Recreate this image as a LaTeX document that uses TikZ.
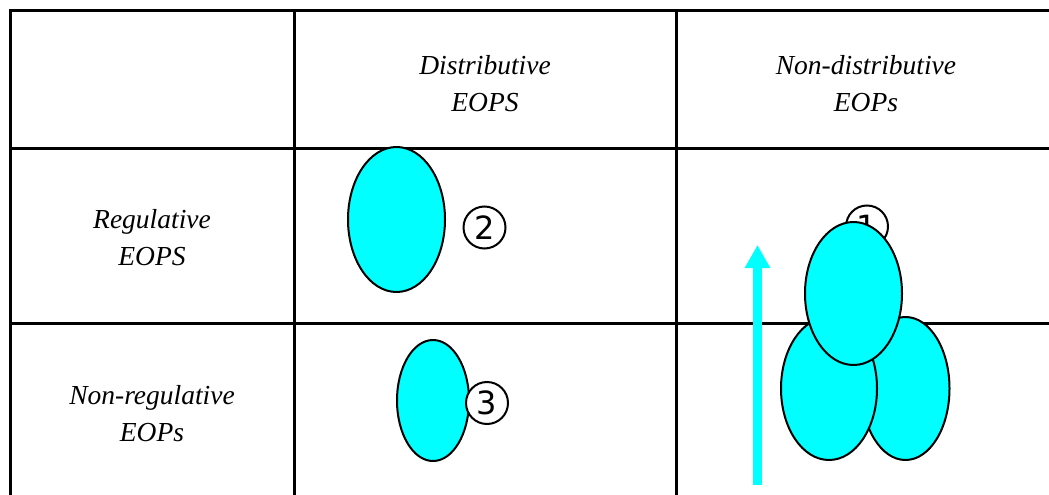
\documentclass[tikz,border=0pt]{standalone}
\usepackage{fontspec}
\setmainfont{Liberation Serif}
\newfontfamily\digitfont{DejaVu Sans}
\usetikzlibrary{shapes.geometric,arrows.meta}
\definecolor{aqua}{HTML}{00FFFF}
\tikzset{
  gridline/.style={line width=3pt, line cap=rect},
  label/.style={align=center, inner sep=0pt, font=\itshape\fontsize{27.5}{37}\selectfont},
  blob/.style={ellipse, draw=black, fill=aqua, line width=2pt, inner sep=0pt},
  num/.style={circle, draw=black, fill=white, line width=2pt, minimum size=42pt, inner sep=0pt, font=\digitfont\fontsize{32}{32}\selectfont},
}
\begin{document}
\begin{tikzpicture}[x=1pt,y=-1pt]
\useasboundingbox (0,0) rectangle (1049,495);
% table grid
\draw[gridline] (10,11) -- (1049,11);
\draw[gridline] (10,148) -- (1049,148);
\draw[gridline] (10,323) -- (1049,323);
\draw[gridline] (10,11) -- (10,497);
\draw[gridline] (294,11) -- (294,497);
\draw[gridline] (676,11) -- (676,494);
% headers
\node[label] (h1) at (485,84) {Distributive\\EOPS};
\node[label] (h2) at (866,84) {Non-distributive\\EOPs};
\node[label] (r1) at (152,238) {Regulative\\EOPS};
\node[label] (r2) at (152,414) {Non-regulative\\EOPs};
% numbered circles and blobs
\node[num] (n2) at (484.5,227.5) {2};
\node[blob, minimum width=97pt, minimum height=145pt] (e2) at (396.5,219.5) {};
\node[blob, minimum width=72pt, minimum height=121pt] (e3) at (433,400.5) {};
\node[num] (n3) at (487,403) {3};
\node[num] (n1) at (867,226.5) {1};
\node[blob, minimum width=88pt, minimum height=143pt] (e5) at (905.5,388.5) {};
\node[blob, minimum width=96pt, minimum height=143pt] (e4) at (829,388.5) {};
\node[blob, minimum width=97pt, minimum height=143pt] (e1) at (853.5,293.5) {};
% arrow
\coordinate (as) at (757.5,485);
\coordinate (ae) at (757.5,245);
\draw[aqua, line width=9pt, -{Triangle[width=24pt,length=23pt]}] (as) -- (ae);
\end{tikzpicture}
\end{document}
